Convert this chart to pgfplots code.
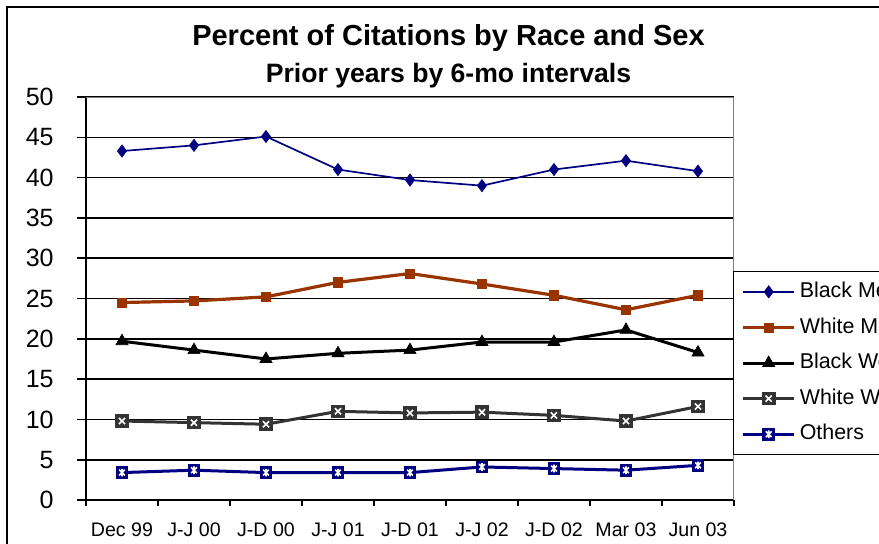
\documentclass[border=0pt]{standalone}
\usepackage{fontspec}
\setmainfont{Liberation Sans}
\usepackage{pgfplots}
\usepackage{pgfplotstable}
\pgfplotsset{compat=1.18}
\definecolor{navy}{RGB}{0,0,128}
\definecolor{wm}{RGB}{153,51,0}
\definecolor{ww}{RGB}{51,51,51}
\definecolor{bordergray}{RGB}{128,128,128}

\pgfdeclareplotmark{sqx}{%
  \pgfpathrectangle{\pgfqpoint{-\pgfplotmarksize}{-\pgfplotmarksize}}{\pgfqpoint{2\pgfplotmarksize}{2\pgfplotmarksize}}%
  \pgfusepathqfill
  \pgfsetstrokecolor{white}%
  \pgfsetlinewidth{0.8pt}%
  \pgfpathmoveto{\pgfqpoint{-0.45\pgfplotmarksize}{-0.45\pgfplotmarksize}}%
  \pgfpathlineto{\pgfqpoint{0.45\pgfplotmarksize}{0.45\pgfplotmarksize}}%
  \pgfpathmoveto{\pgfqpoint{-0.45\pgfplotmarksize}{0.45\pgfplotmarksize}}%
  \pgfpathlineto{\pgfqpoint{0.45\pgfplotmarksize}{-0.45\pgfplotmarksize}}%
  \pgfusepathqstroke
}
\pgfdeclareplotmark{sqast}{%
  \pgfpathrectangle{\pgfqpoint{-\pgfplotmarksize}{-\pgfplotmarksize}}{\pgfqpoint{2\pgfplotmarksize}{2\pgfplotmarksize}}%
  \pgfusepathqfill
  \pgfsetstrokecolor{white}%
  \pgfsetlinewidth{0.8pt}%
  \pgfpathmoveto{\pgfqpoint{-0.45\pgfplotmarksize}{-0.45\pgfplotmarksize}}%
  \pgfpathlineto{\pgfqpoint{0.45\pgfplotmarksize}{0.45\pgfplotmarksize}}%
  \pgfpathmoveto{\pgfqpoint{-0.45\pgfplotmarksize}{0.45\pgfplotmarksize}}%
  \pgfpathlineto{\pgfqpoint{0.45\pgfplotmarksize}{-0.45\pgfplotmarksize}}%
  \pgfpathmoveto{\pgfqpoint{0pt}{-0.6\pgfplotmarksize}}%
  \pgfpathlineto{\pgfqpoint{0pt}{0.6\pgfplotmarksize}}%
  \pgfusepathqstroke
}

\pgfplotstableread{
x bm wm bw ww ot
0 43.3 24.5 19.7 9.8 3.4
1 44.0 24.7 18.6 9.6 3.7
2 45.1 25.2 17.5 9.4 3.4
3 41.0 27.0 18.2 11.0 3.4
4 39.7 28.1 18.6 10.8 3.4
5 39.0 26.8 19.6 10.9 4.1
6 41.0 25.4 19.6 10.5 3.9
7 42.1 23.6 21.1 9.8 3.7
8 40.8 25.4 18.3 11.6 4.3
}\citdata

\begin{document}
\begin{tikzpicture}
\begin{axis}[
  scale only axis,
  width=324pt, height=201.5pt,
  xmin=-0.5, xmax=8.5, ymin=0, ymax=50,
  /pgf/number format/assume math mode=true,
  axis lines=left, axis line style={-, black, line width=0.8pt},
  xtick={0,...,8},
  xticklabels={Dec 99, J-J 00, J-D 00, J-J 01, J-D 01, J-J 02, J-D 02, Mar 03, Jun 03},
  major x tick style={draw=none},
  minor xtick={-0.5,0.5,...,8.5},
  ytick={0,5,...,50},
  tick align=outside,
  major tick length=4.5pt, minor tick length=3pt,
  tick style={black, line width=0.8pt},
  ymajorgrids, grid style={black, line width=0.8pt},
  xticklabel style={font=\fontsize{9.8}{11}\selectfont, inner sep=0pt, anchor=north, yshift=-6.5pt},
  yticklabel style={font=\fontsize{12.5}{14}\selectfont, inner sep=0pt, anchor=east, xshift=-11.5pt},
  legend style={at={(0.9985,0.568)}, anchor=north west, draw=black, line width=0.6pt, fill=white,
    font=\fontsize{10.7}{12}\selectfont, inner xsep=4pt, inner ysep=5.2pt, row sep=8.1pt,
    nodes={inner ysep=0pt, text height=7.7pt, text depth=2pt}},
  legend cell align=left,
  legend image code/.code={\draw[mark repeat=2,mark phase=2,#1] plot coordinates {(0pt,0pt) (12.75pt,0pt) (25.5pt,0pt)};},
]
\addplot[navy, line width=0.85pt, mark=diamond*, mark size=3pt, mark options={fill=navy, draw=navy, line width=0.4pt}] table[x=x, y=bm] {\citdata};
\addlegendentry{Black Men}
\addplot[wm, line width=1.6pt, mark=square*, mark size=2.3pt, mark options={fill=wm, draw=wm, line width=0.3pt}] table[x=x, y=wm] {\citdata};
\addlegendentry{White Men}
\addplot[black, line width=1.5pt, mark=triangle*, mark size=3.5pt, mark options={fill=black, draw=black, line width=0.3pt}] table[x=x, y=bw] {\citdata};
\addlegendentry{Black Women}
\addplot[ww, line width=1.5pt, mark=sqx, mark size=3.4pt, mark options={fill=ww, draw=ww}] table[x=x, y=ww] {\citdata};
\addlegendentry{White Women}
\addplot[navy, line width=1.5pt, mark=sqast, mark size=3.2pt, mark options={fill=navy, draw=navy}] table[x=x, y=ot] {\citdata};
\addlegendentry{Others}
\draw[bordergray, line width=0.8pt] (rel axis cs:0,1) -- (rel axis cs:1,1) -- (rel axis cs:1,0);
\coordinate (AO) at (rel axis cs:0,0);
\end{axis}
\pgfresetboundingbox
\begin{scope}[shift={(AO)}, xshift=-43pt, yshift=-21.5pt, x=1pt, y=1pt]
\useasboundingbox (0,0) rectangle (439.5,271.5);
\draw[line width=1.3pt] (3.5,-20) -- (3.5,268) -- (460,268);
\node[font=\bfseries\fontsize{14.5}{17}\selectfont, anchor=base, inner sep=0pt] at (224.25,249) {Percent of Citations by Race and Sex};
\node[font=\bfseries\fontsize{13.3}{16}\selectfont, anchor=base, inner sep=0pt] at (224.25,230.5) {Prior years by 6-mo intervals};
\end{scope}
\end{tikzpicture}
\end{document}
